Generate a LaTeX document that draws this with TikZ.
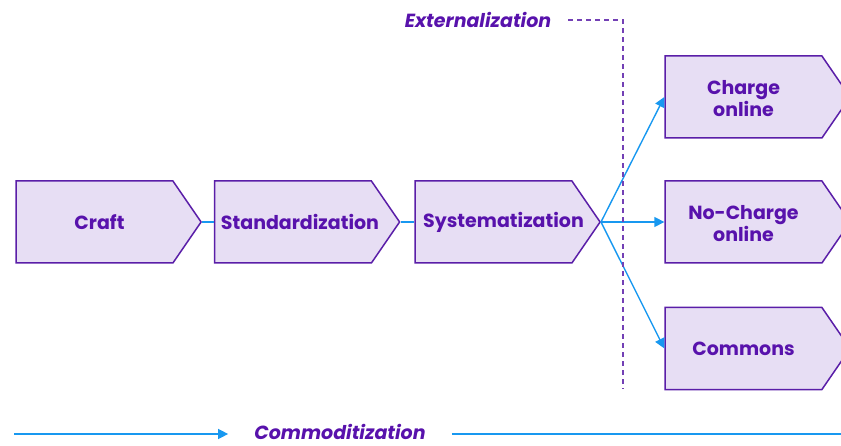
\documentclass[tikz,border=0pt]{standalone}
\usepackage{fontspec}
\setmainfont{Poppins}
\usetikzlibrary{shapes.symbols,arrows.meta}

\definecolor{boxfill}{RGB}{231,222,244}
\definecolor{boxline}{RGB}{90,30,168}
\definecolor{txtpurple}{RGB}{88,18,172}
\definecolor{flowblue}{RGB}{24,152,240}

\tikzset{
    stagebox/.style 2 args={signal, signal to=east, signal pointer angle=111,
        draw=boxline, fill=boxfill, line width=1.5pt,
        minimum width=185pt, minimum height=82pt, inner sep=0pt,
        label={[stagetxt,#1]center:#2}},
    stagetxt/.style={text=txtpurple, font=\fontsize{19}{22}\selectfont\bfseries,
        align=center, inner sep=0pt},
    flow/.style={draw=flowblue, line width=1.4pt},
    phase/.style={text=txtpurple, inner ysep=0pt,
        font=\fontsize{19}{22}\selectfont\bfseries\itshape}
}

\begin{document}
\begin{tikzpicture}[x=1pt, y=-1pt, >={Triangle[length=10pt,width=10pt]}]
    \useasboundingbox (0,0) rectangle (841,446);

    \node[stagebox={xshift=5pt}{Craft}] (craft) at (94.5,222) {};
    \node[stagebox={xshift=7pt}{Standardization}] (stand) at (293,222) {};
    \node[stagebox={xshift=10pt}{Systematization}] (syst) at (493.5,222) {};

    \node[stagebox={yshift=-2pt}{Charge\\online}] (charge) at (743.5,97) {};
    \node[stagebox={yshift=-2pt}{No-Charge\\online}] (nocharge) at (743.5,222) {};
    \node[stagebox={}{Commons}] (commons) at (743.5,348.5) {};

    \draw[flow] (craft.east) -- (stand.west);
    \draw[flow] (stand.east) -- (syst.west);
    \draw[flow, ->] (syst.east) -- (charge.west);
    \draw[flow, ->] (syst.east) -- (nocharge.west);
    \draw[flow, ->] (syst.east) -- (commons.west);

    % externalization boundary
    \node[phase, inner xsep=17pt] (ext) at (478,20) {Externalization};
    \coordinate (extend) at (623,389);
    \draw[boxline!85, line width=1.2pt, dash pattern=on 5pt off 4pt]
        (ext.east) -| (extend);

    % commoditization axis
    \node[phase, inner xsep=26pt] (comm) at (340,432) {Commoditization};
    \coordinate (axstart) at (14,434);
    \coordinate (axend) at (851,434);
    \draw[flow, ->] (axstart) -- (axstart -| comm.west);
    \draw[flow, ->] (axend -| comm.east) -- (axend);
\end{tikzpicture}
\end{document}
